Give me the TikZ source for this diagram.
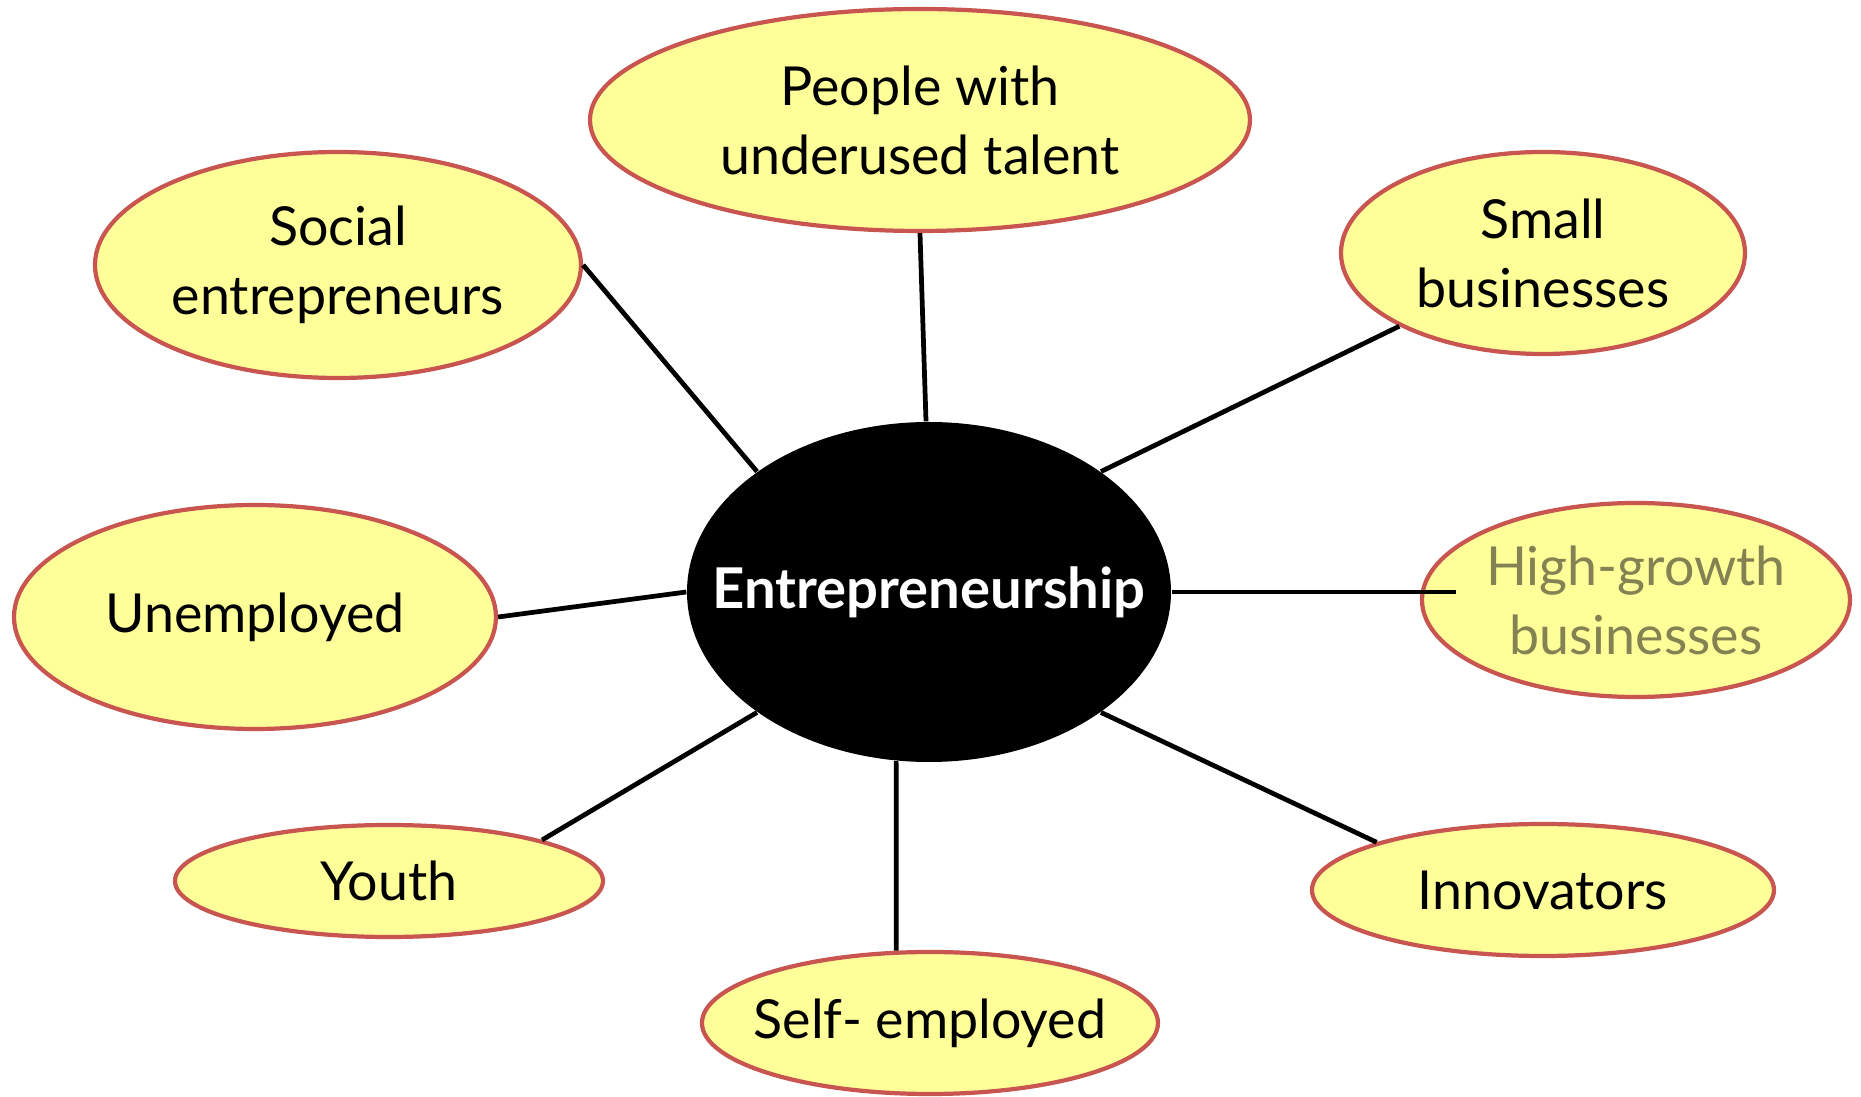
\documentclass[tikz,border=0pt]{standalone}
\usepackage{fontspec}
\setmainfont{Lato}
\usepackage{xcolor}
\usepackage{tikz}
\usetikzlibrary{positioning}
\usetikzlibrary{calc,shapes.geometric}

\definecolor{BubbleFill}{RGB}{255,255,153}
\definecolor{BubbleEdge}{RGB}{200,85,80}
\definecolor{FadedText}{RGB}{132,130,82}

\tikzset{
	bubble/.style={ellipse, draw=BubbleEdge, fill=BubbleFill, line width=1.2pt,
		inner sep=0pt, inner xsep=-0.5cm, align=center,
		font=\fontsize{15.3}{19.6}\selectfont},
	hub/.style={ellipse, fill=black, inner sep=0pt, inner xsep=-0.7cm,
		text=white, font=\fontsize{16}{19.6}\selectfont\bfseries,
		minimum width=4.84cm, minimum height=3.40cm},
	spoke/.style={line width=1.35pt, black}
}

\begin{document}
\begin{tikzpicture}
	
	% fix the page to the size of the reference
	\useasboundingbox (-9.29,-5.05) rectangle (9.32,5.92);
	
	% centre of the diagram
	\coordinate (C) at (0,0);
	
	\node[hub] (E) at (C) {Entrepreneurship};
	
	% the eight bubbles, placed as offsets from the centre
	
	\node[bubble, minimum width=6.60cm, minimum height=2.22cm] (Ppl)   at ($(C) + (-0.09, 4.72)$) {People with\\underused talent};
	\node[bubble, minimum width=4.86cm, minimum height=2.26cm] (Soc)   at ($(C) + (-5.91, 3.27)$) {Social\\entrepreneurs};
	\node[bubble, minimum width=4.04cm, minimum height=2.02cm] (Sml)   at ($(C) + ( 6.14, 3.39)$) {Small\\businesses};
	\node[bubble, minimum width=4.82cm, minimum height=2.24cm] (Unemp) at ($(C) + (-6.74,-0.25)$) {Unemployed};
	\node[bubble, minimum width=4.28cm, minimum height=1.94cm, text=FadedText] (HiGr) at ($(C) + (7.07,-0.08)$) {High-growth\\businesses};
	\node[bubble, minimum width=4.28cm, minimum height=1.12cm] (Yth)   at ($(C) + (-5.40,-2.89)$) {Youth};
	\node[bubble, minimum width=4.56cm, minimum height=1.42cm] (Self)  at ($(C) + ( 0.01,-4.31)$) {Self- employed};
	\node[bubble, minimum width=4.62cm, minimum height=1.32cm] (Innov) at ($(C) + ( 6.14,-2.98)$) {Innovators};
	
	%%%%%%%%%%%%%%%%%%%%%%%%%%%%%%%%%%%%%%%%%%%%%%%%%%%%%%%%%%%%%%
	% spokes from the centre out to each bubble
	
	\draw[spoke] (E.91)   -- (Ppl.south);
	\draw[spoke] (E.145)  -- (Soc.east);
	\draw[spoke] (E.35)   -- (Sml.207);
	\draw[spoke] (E.west) -- (Unemp.east);
	\draw[spoke, shorten >=-0.36cm] (E.east) -- (E.east -| HiGr.west);
	\draw[spoke] (E.215)  -- (Yth.15);
	\draw[spoke] (E.259)  -- (Self.115);
	\draw[spoke] (E.325)  -- (Innov.164);
	
\end{tikzpicture}
\end{document}
